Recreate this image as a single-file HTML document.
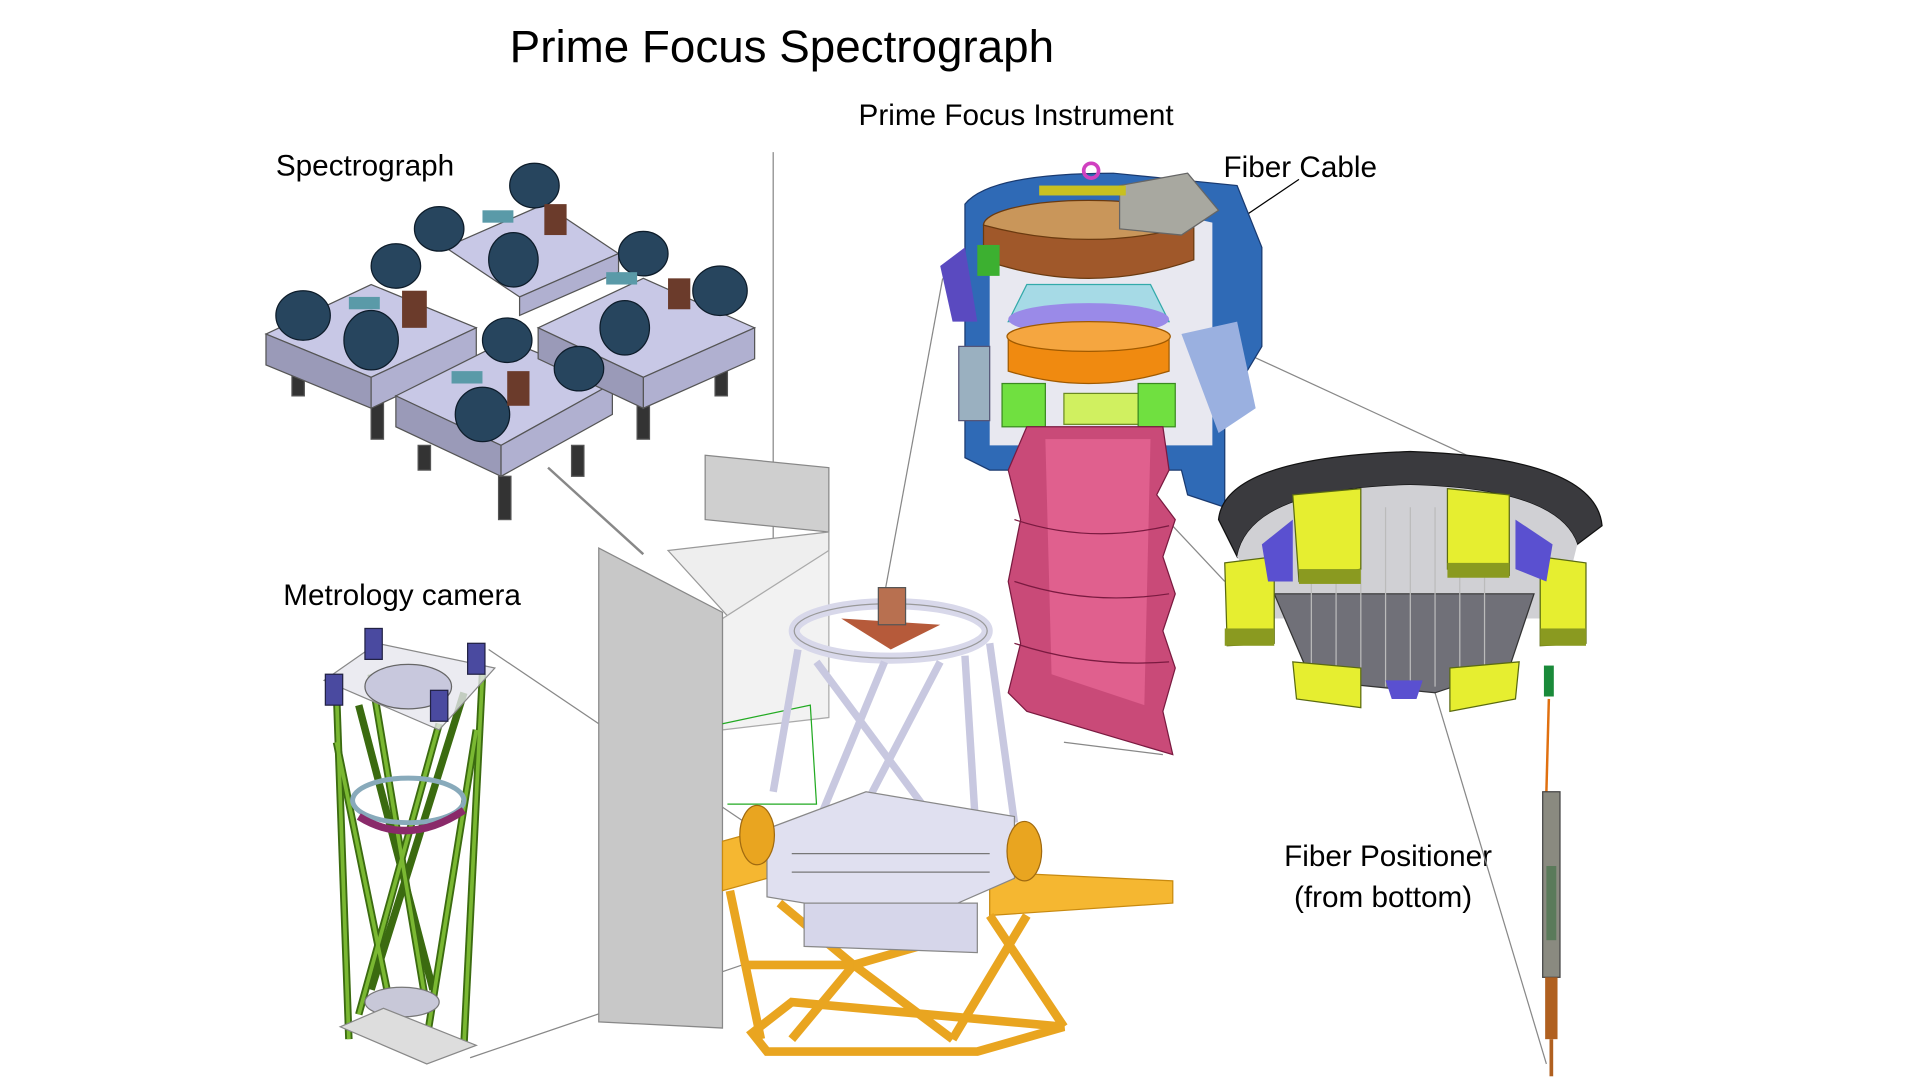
<!DOCTYPE html>
<html><head><meta charset="utf-8"><style>
html,body{margin:0;padding:0;background:#fff;}
svg{display:block;}
text{font-family:"Liberation Sans",sans-serif;fill:#000;}
</style></head><body>
<svg width="1920" height="1080" viewBox="0 0 1552 873" preserveAspectRatio="none" xmlns="http://www.w3.org/2000/svg">
<rect width="1552" height="873" fill="#fff"/>
<text x="412" y="50" font-size="37">Prime Focus Spectrograph</text>
<text x="694" y="101" font-size="24">Prime Focus Instrument</text>
<text x="223" y="142" font-size="24">Spectrograph</text>
<text x="989" y="143" font-size="24">Fiber Cable</text>
<text x="229" y="489" font-size="24">Metrology camera</text>
<text x="1038" y="700" font-size="24">Fiber Positioner</text>
<text x="1046" y="733" font-size="24">(from bottom)</text>

<g stroke="#888" stroke-width="1" fill="none">
<line x1="625" y1="123" x2="625" y2="440"/>
<line x1="443" y1="378" x2="520" y2="448" stroke-width="2"/>
<line x1="395" y1="525" x2="610" y2="670"/>
<line x1="380" y1="855" x2="600" y2="780"/>
<line x1="762" y1="225" x2="715" y2="480"/>
<line x1="860" y1="600" x2="940" y2="610"/>
<line x1="930" y1="250" x2="1190" y2="370"/>
<line x1="840" y1="310" x2="990" y2="470"/>
<line x1="1160" y1="560" x2="1250" y2="860"/>
<line x1="1050" y1="145" x2="880" y2="260" stroke="#000"/>
</g>

<polygon points="570,368 670,378 670,430 570,420" fill="#cfcfcf" stroke="#888"/>
<polygon points="540,445 670,430 670,445 590,500" fill="#eee" stroke="#999"/>
<polygon points="584,500 670,445 670,580 584,590" fill="#f2f2f2" stroke="#aaa"/>
<polygon points="484,443 584,495 584,831 484,826" fill="#c8c8c8" stroke="#888"/>
<polyline points="584,585 655,570 660,650 588,650" fill="none" stroke="#2a2" stroke-width="1"/>

<g stroke="#555" stroke-width="1">
<g fill="#333">
<rect x="236" y="300" width="10" height="20"/><rect x="300" y="325" width="10" height="30"/>
<rect x="338" y="360" width="10" height="20"/><rect x="403" y="385" width="10" height="35"/>
<rect x="462" y="360" width="10" height="25"/><rect x="515" y="320" width="10" height="35"/>
<rect x="578" y="290" width="10" height="30"/>
</g>
<polygon points="215,270 300,230 385,265 300,305" fill="#c8c8e6"/>
<polygon points="215,270 300,305 300,330 215,295" fill="#9a9ab8"/>
<polygon points="300,305 385,265 385,290 300,330" fill="#b0b0d0"/>
<polygon points="320,320 410,275 495,310 405,360" fill="#c8c8e6"/>
<polygon points="320,320 405,360 405,385 320,345" fill="#9a9ab8"/>
<polygon points="405,360 495,310 495,335 405,385" fill="#b0b0d0"/>
<polygon points="360,200 440,165 500,205 420,240" fill="#c8c8e6"/>
<polygon points="420,240 500,205 500,220 420,255" fill="#b0b0d0"/>
<polygon points="435,265 520,225 610,265 520,305" fill="#c8c8e6"/>
<polygon points="520,305 610,265 610,290 520,330" fill="#b0b0d0"/>
<polygon points="435,265 520,305 520,330 435,290" fill="#9a9ab8"/>
</g>
<g fill="#27455e" stroke="#0d1c2a">
<ellipse cx="245" cy="255" rx="22" ry="20"/><ellipse cx="300" cy="275" rx="22" ry="24"/>
<ellipse cx="320" cy="215" rx="20" ry="18"/><ellipse cx="355" cy="185" rx="20" ry="18"/>
<ellipse cx="432" cy="150" rx="20" ry="18"/><ellipse cx="415" cy="210" rx="20" ry="22"/>
<ellipse cx="520" cy="205" rx="20" ry="18"/><ellipse cx="505" cy="265" rx="20" ry="22"/>
<ellipse cx="582" cy="235" rx="22" ry="20"/><ellipse cx="410" cy="275" rx="20" ry="18"/>
<ellipse cx="468" cy="298" rx="20" ry="18"/><ellipse cx="390" cy="335" rx="22" ry="22"/>
</g>
<g fill="#5a9aa8"><rect x="282" y="240" width="25" height="10"/><rect x="390" y="170" width="25" height="10"/><rect x="490" y="220" width="25" height="10"/><rect x="365" y="300" width="25" height="10"/></g>
<g fill="#6b3b2b"><rect x="325" y="235" width="20" height="30"/><rect x="440" y="165" width="18" height="25"/><rect x="540" y="225" width="18" height="25"/><rect x="410" y="300" width="18" height="28"/></g>

<g stroke="#3b6b10" stroke-width="6" fill="none">
<line x1="272" y1="560" x2="282" y2="840"/><line x1="390" y1="545" x2="375" y2="845"/>
<line x1="300" y1="545" x2="345" y2="815"/><line x1="355" y1="585" x2="290" y2="820"/>
<line x1="272" y1="600" x2="320" y2="835"/><line x1="385" y1="590" x2="345" y2="840"/>
<line x1="290" y1="570" x2="350" y2="800"/><line x1="375" y1="560" x2="300" y2="800"/>
</g>
<g stroke="#7ab832" stroke-width="3" fill="none">
<line x1="272" y1="560" x2="282" y2="840"/><line x1="390" y1="545" x2="375" y2="845"/>
<line x1="300" y1="545" x2="345" y2="815"/><line x1="355" y1="585" x2="290" y2="820"/>
<line x1="272" y1="600" x2="320" y2="835"/><line x1="385" y1="590" x2="345" y2="840"/>
</g>
<polygon points="262,550 305,520 400,540 355,590" fill="#e6e6ee" fill-opacity=".8" stroke="#888"/>
<ellipse cx="330" cy="555" rx="35" ry="18" fill="#c8c8dd" stroke="#666"/>
<ellipse cx="330" cy="647" rx="45" ry="18" fill="none" stroke="#8ab" stroke-width="4"/>
<path d="M290,660 Q330,685 375,655" stroke="#8a2a6a" stroke-width="6" fill="none"/>
<ellipse cx="325" cy="810" rx="30" ry="12" fill="#c8c8d8" stroke="#777"/>
<polygon points="275,830 310,815 385,845 345,860" fill="#ddd" stroke="#888"/>
<g fill="#4a4aa0" stroke="#224"><rect x="295" y="508" width="14" height="25"/><rect x="378" y="520" width="14" height="25"/><rect x="263" y="545" width="14" height="25"/><rect x="348" y="558" width="14" height="25"/></g>

<g stroke="#c88a10" fill="#f5b731">
<polygon points="584,680 620,670 620,710 584,720"/>
<polygon points="800,705 948,712 948,730 800,740"/>
<polygon points="608,835 640,810 860,830 790,850 620,850" fill="none" stroke-width="7" stroke="#e9a520"/>
</g>
<g stroke="#e9a520" stroke-width="7" fill="none">
<line x1="590" y1="720" x2="615" y2="840"/><line x1="630" y1="730" x2="690" y2="780"/>
<line x1="800" y1="740" x2="860" y2="830"/><line x1="760" y1="760" x2="690" y2="780"/>
<line x1="690" y1="780" x2="770" y2="840"/><line x1="690" y1="780" x2="640" y2="840"/>
<line x1="830" y1="740" x2="770" y2="840"/><line x1="600" y1="780" x2="690" y2="780"/>
</g>
<ellipse cx="720" cy="510" rx="78" ry="22" fill="none" stroke="#d8d8ea" stroke-width="9"/>
<ellipse cx="720" cy="510" rx="78" ry="22" fill="none" stroke="#999" stroke-width="1"/>
<polygon points="680,500 760,505 720,525" fill="#b65a3a"/>
<rect x="710" y="475" width="22" height="30" fill="#b87050" stroke="#555"/>
<g stroke="#c8c8e0" stroke-width="6" fill="none">
<line x1="645" y1="525" x2="625" y2="640"/><line x1="800" y1="520" x2="820" y2="665"/>
<line x1="660" y1="535" x2="775" y2="690"/><line x1="715" y1="535" x2="655" y2="680"/>
<line x1="780" y1="530" x2="790" y2="690"/><line x1="760" y1="535" x2="700" y2="650"/>
</g>
<polygon points="620,670 700,640 820,660 820,710 740,745 620,725" fill="#e0e0f0" stroke="#888"/>
<polygon points="650,730 790,730 790,770 650,765" fill="#d6d6ea" stroke="#888"/>
<g stroke="#777" fill="none"><line x1="640" y1="690" x2="800" y2="690"/><line x1="640" y1="705" x2="800" y2="705"/></g>
<ellipse cx="612" cy="675" rx="14" ry="24" fill="#e9a520" stroke="#a06a10"/>
<ellipse cx="828" cy="688" rx="14" ry="24" fill="#e9a520" stroke="#a06a10"/>

<path d="M780,165 Q800,140 900,140 L1000,150 L1020,200 L1020,280 L990,330 L990,410 L960,400 L955,380 L800,380 L780,370 Z" fill="#2f6ab6" stroke="#1a3a70"/>
<path d="M800,180 Q900,160 980,180 L980,360 L800,360 Z" fill="#e8e8f0"/>
<path d="M760,215 L780,200 L790,260 L770,260 Z" fill="#5a4ac0"/>
<path d="M955,270 L1000,260 L1015,330 L985,350 Z" fill="#9ab0e0"/>
<ellipse cx="880" cy="182" rx="85" ry="20" fill="#c9965a" stroke="#6a3a10"/>
<path d="M795,182 L795,210 Q880,240 965,210 L965,182 Q880,205 795,182Z" fill="#a0582a" stroke="#6a3a10"/>
<rect x="790" y="198" width="18" height="25" fill="#3cb030"/>
<path d="M905,150 L960,140 L985,170 L955,190 L905,185Z" fill="#a8a8a0" stroke="#666"/>
<rect x="840" y="150" width="70" height="8" fill="#c8c020"/>
<circle cx="882" cy="138" r="6" fill="none" stroke="#d040c0" stroke-width="3"/>
<polygon points="830,230 930,230 945,260 815,260" fill="#7ad0e0" fill-opacity=".6" stroke="#3aa"/>
<ellipse cx="880" cy="258" rx="65" ry="13" fill="#9a8ae8"/>
<path d="M815,272 L945,272 L945,300 Q880,320 815,300Z" fill="#f08a10" stroke="#a05a00"/>
<ellipse cx="880" cy="272" rx="66" ry="12" fill="#f5a640" stroke="#a05a00"/>
<rect x="810" y="310" width="35" height="35" fill="#70e040" stroke="#3a8a20"/>
<rect x="860" y="318" width="60" height="25" fill="#d0f060" stroke="#6a8a20"/>
<rect x="920" y="310" width="30" height="35" fill="#70e040" stroke="#3a8a20"/>
<path d="M830,345 L940,345 L945,380 L935,400 L950,420 L940,450 L950,480 L940,510 L950,540 L940,575 L948,610 L830,575 L815,560 L825,520 L815,470 L825,420 L815,380Z" fill="#c94a78" stroke="#7a1a40"/>
<path d="M845,355 L930,355 L925,570 L850,545Z" fill="#e0608e"/>
<g stroke="#7a1a40" fill="none"><path d="M820,420 Q880,440 945,425"/><path d="M820,470 Q880,490 945,480"/><path d="M820,520 Q880,540 945,535"/></g>
<rect x="775" y="280" width="25" height="60" fill="#9ab0c0" stroke="#557"/>

<path d="M985,420 Q990,370 1140,365 Q1290,370 1295,425 L1275,440 Q1260,395 1140,392 Q1010,395 1000,450Z" fill="#3a3a3e" stroke="#111"/>
<path d="M1000,450 Q1010,395 1140,392 Q1260,395 1275,440 L1260,500 L1030,500Z" fill="#d0d0d4"/>
<path d="M1030,480 L1240,480 L1220,540 L1160,560 L1060,550Z" fill="#707078" stroke="#333"/>
<g stroke="#bbb" stroke-width="1">
<line x1="1060" y1="410" x2="1060" y2="540"/><line x1="1080" y1="410" x2="1080" y2="545"/><line x1="1100" y1="410" x2="1100" y2="550"/><line x1="1120" y1="410" x2="1120" y2="555"/><line x1="1140" y1="410" x2="1140" y2="555"/><line x1="1160" y1="410" x2="1160" y2="555"/><line x1="1180" y1="410" x2="1180" y2="550"/><line x1="1200" y1="410" x2="1200" y2="545"/>
</g>
<g fill="#e6ee30" stroke="#5a6a10">
<polygon points="1045,400 1100,395 1100,460 1050,470"/>
<polygon points="1170,395 1220,400 1220,465 1170,460"/>
<polygon points="990,455 1030,450 1030,520 992,522"/>
<polygon points="1245,450 1282,455 1282,520 1245,522"/>
<polygon points="1045,535 1100,540 1100,572 1048,565"/>
<polygon points="1172,540 1228,535 1225,565 1172,575"/>
</g>
<g fill="#8a9a20"><rect x="1050" y="460" width="50" height="12"/><rect x="1170" y="455" width="50" height="12"/><rect x="990" y="508" width="40" height="14"/><rect x="1245" y="508" width="37" height="14"/></g>
<g fill="#5a50d0"><polygon points="1020,440 1045,420 1045,470 1025,470"/><polygon points="1225,420 1255,440 1250,470 1225,460"/><polygon points="1120,550 1150,550 1145,565 1125,565"/></g>
<rect x="1248" y="538" width="8" height="25" fill="#1a8a3a"/>
<path d="M1252,565 L1250,640" stroke="#e07010" stroke-width="2" fill="none"/>
<rect x="1247" y="640" width="14" height="150" fill="#8a8a80" stroke="#444"/>
<rect x="1250" y="700" width="8" height="60" fill="#5a7a5a"/>
<rect x="1249" y="790" width="10" height="50" fill="#b06020"/>
<line x1="1254" y1="840" x2="1254" y2="870" stroke="#b06020" stroke-width="3"/>
</svg>
</body></html>
